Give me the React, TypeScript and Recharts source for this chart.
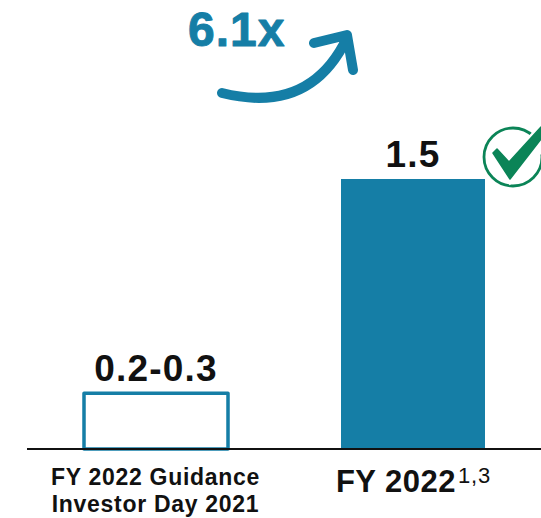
import { BarChart, Bar, XAxis, YAxis, Cell, LabelList } from "recharts"

const categories = ["guidance", "actual"]
const values = [0.31, 1.5]
const valueLabels = ["0.2-0.3", "1.5"]

const BLUE = "#157EA6"
const GREEN = "#0B8457"
const FONT = "'Liberation Sans', Arial, sans-serif"

const data = categories.map((name, i) => ({ name, value: values[i], label: valueLabels[i] }))

function CategoryTick({ x, y, payload }: any) {
  if (payload.value === "guidance") {
    return (
      <text x={x} textAnchor="middle" fontFamily={FONT} fontWeight={700} fontSize={23} letterSpacing={0.7} fill="#111">
        <tspan x={x} y={y + 28}>FY 2022 Guidance</tspan>
        <tspan x={x} y={y + 55}>Investor Day 2021</tspan>
      </text>
    )
  }
  return (
    <text x={x + 1} y={y + 35} textAnchor="middle" fontFamily={FONT} fontWeight={700} fontSize={31} letterSpacing={0.5} fill="#111">
      FY 2022
      <tspan fontSize={22} fontWeight={400} letterSpacing={0.8} dx={2} dy={-9}>1,3</tspan>
    </text>
  )
}

export default function App() {
  return (
    <div style={{ width: 541, height: 518, overflow: "hidden", background: "#fff" }}>
      <style>{"body{margin:0}"}</style>
      <BarChart
        width={541}
        height={518}
        data={data}
        margin={{ top: 179, right: 0, bottom: 0, left: 27 }}
        barCategoryGap={56}
      >
        <YAxis hide domain={[0, 1.5]} />
        <XAxis
          dataKey="name"
          height={69}
          interval={0}
          tickLine={false}
          axisLine={{ stroke: "#111", strokeWidth: 2 }}
          tick={<CategoryTick />}
        />
        <Bar dataKey="value" barSize={144} isAnimationActive={false}>
          {data.map((d, i) => (
            <Cell
              key={d.name}
              fill={i === 0 ? "#fff" : BLUE}
              stroke={i === 0 ? BLUE : "none"}
              strokeWidth={i === 0 ? 3.5 : 0}
              strokeLinejoin="round"
            />
          ))}
          <LabelList
            dataKey="label"
            position="top"
            offset={12}
            fontFamily={FONT}
            fontWeight={700}
            fontSize={37}
            fill="#111"
            style={{ letterSpacing: 1.2 }}
          />
        </Bar>

        {/* growth callout */}
        <text
          x={188}
          y={46}
          fontFamily={FONT}
          fontWeight={700}
          fontSize={48}
          letterSpacing={1}
          fill={BLUE}
          stroke={BLUE}
          strokeWidth={1}
          strokeLinejoin="round"
        >
          6.1x
        </text>
        <path
          d="M222 93 Q310 115 347 38 M314 43 L347 35 L353 70"
          fill="none"
          stroke={BLUE}
          strokeWidth={10}
          strokeLinecap="round"
          strokeLinejoin="round"
        />

        {/* check badge */}
        <circle cx={513} cy={157} r={29} fill="#fff" stroke={GREEN} strokeWidth={2.8} />
        <path d="M545 122 L509 157 L497 145 L489 153 L510 183 L545 148 Z" fill="#fff" stroke="#fff" strokeWidth={3} />
        <path d="M541 127 L509 162 L497 149 L493 153 L510 179 L541 139 Z" fill={GREEN} stroke={GREEN} strokeWidth={1.5} strokeLinejoin="round" />
      </BarChart>
    </div>
  )
}
